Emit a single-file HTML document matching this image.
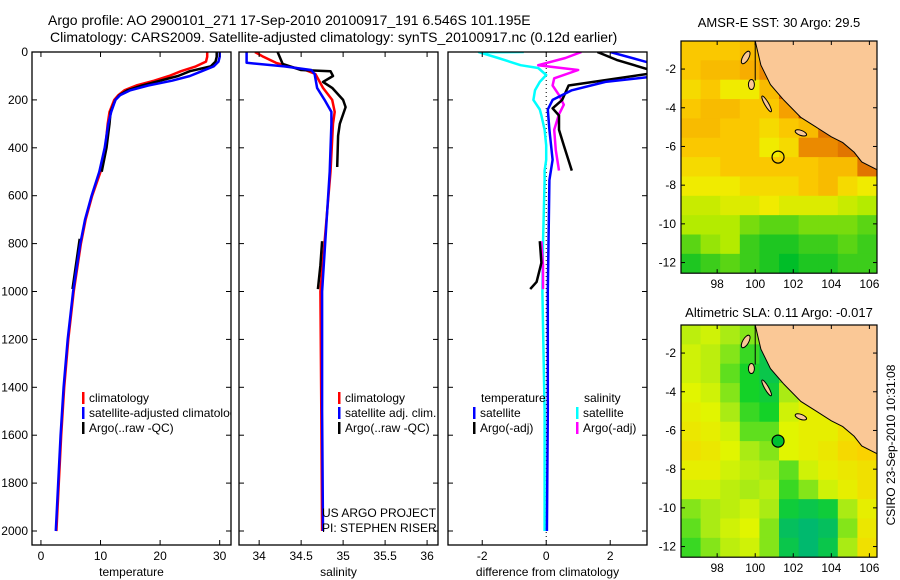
<!DOCTYPE html>
<html><head><meta charset="utf-8"><style>
body{margin:0;background:#fff}
svg{display:block;font-family:"Liberation Sans",sans-serif}
</style></head><body>
<svg id="c" width="900" height="580" viewBox="0 0 900 580">
<text x="48" y="25" font-size="14">Argo profile: AO 2900101_271 17-Sep-2010 20100917_191 6.546S 101.195E</text>
<text x="50" y="42" font-size="14">Climatology: CARS2009. Satellite-adjusted climatology: synTS_20100917.nc (0.12d earlier)</text>
<text x="779" y="27" font-size="13" text-anchor="middle">AMSR-E SST: 30 Argo: 29.5</text>
<text x="779" y="317" font-size="13" text-anchor="middle">Altimetric SLA: 0.11 Argo: -0.017</text>
<text transform="translate(895,445) rotate(-90)" font-size="12" text-anchor="middle">CSIRO 23-Sep-2010 10:31:08</text>
</svg>
<script>
// ---- profile data ----
const depths=[0,20,40,60,80,100,120,140,160,180,200,250,300,400,500,600,700,800,1000,1200,1400,1600,1800,2000];
const tempClim=[27.9,27.9,27.7,26,23.5,21.5,19,16,14,13,12.3,11.5,11.2,10.8,10,8.6,7.5,6.7,5.5,4.6,3.9,3.4,3,2.6];
const tempSat=[30,30,29.8,29,27,25,22,18,15,13.3,12.5,11.8,11.3,10.7,9.8,8.5,7.4,6.6,5.4,4.5,3.8,3.3,2.9,2.5];
const argoDepthA=[0,20,40,60,80,100,120,140,160,180,200,250,300,400,500];
const tempArgoA=[29.5,29.5,29.3,28.5,25,23,20,17,14.5,13.2,12.5,11.7,11.5,11,10.2];
const argoDepthB=[780,850,920,990];
const tempArgoB=[6.5,6.1,5.7,5.3];
const salDepth=[0,20,45,60,75,92,150,200,250,300,500,1000,1500,2000];
const salClim=[33.95,34.05,34.2,34.35,34.55,34.67,34.76,34.87,34.9,34.88,34.85,34.73,34.74,34.75];
const salSat=[33.85,33.85,33.85,34.3,34.62,34.66,34.69,34.78,34.86,34.86,34.84,34.75,34.75,34.76];
const salArgoDepth=[0,50,75,80,100,125,150,200,230,300,350,480];
const salArgo=[34.22,34.28,34.5,34.85,34.88,34.76,34.87,35.0,35.03,34.96,34.94,34.93];
const salArgoDepthB=[790,890,990];
const salArgoB=[34.75,34.73,34.7];
const dDepth=[0,1,25,55,67,96,125,160,200,240,265,325,390,410,450,495,535,800,1000,1500,2000];
const dSalSat=[-0.7,-2.1,-1.5,-0.8,-0.25,0,-0.2,-0.35,-0.4,-0.2,-0.15,-0.05,0,0,0,-0.05,-0.05,-0.1,-0.12,-0.05,-0.05];
const dSalArgoDepth=[0,25,55,75,110,140,180,220,260,325,410,495];
const dSalArgo=[1.1,0.6,-0.25,1.0,0.25,0.2,0.4,0.55,0.4,0.25,0.3,0.4];
const dSalArgoDepthB=[790,890,990];
const dSalArgoB=[-0.15,-0.1,-0.1];
const dTempSatDepth=[0,55,100,125,160,200,240,325,450,535,1000,1500,2000];
const dTempSat=[2.0,3.5,3.5,1.85,0.8,0.2,0.05,0.1,0.2,0.1,0.05,0.05,0.02];
const dTempArgoDepth=[0,33,85,140,200,235,265,325,390,495];
const dTempArgo=[1.6,2.2,3.5,0.7,0.5,0.2,0.4,0.4,0.55,0.8];
const dTempArgoDepthB=[790,880,960,990];
const dTempArgoB=[-0.2,-0.15,-0.3,-0.5];
const yTicks=[0,200,400,600,800,1000,1200,1400,1600,1800,2000];
const tTicks=[0,10,20,30], sTicks=[34,34.5,35,35.5,36], dTicks=[-2,0,2];
// ---- map data (rows north->south, lat -0.55.. ; cols lon 96.1..106.4), -1 = land ----
const sstGrid=[
[.55,.55,.55,.6,-1,-1,-1,-1,.9,.95],
[.55,.6,.6,.65,.75,-1,-1,-1,-1,-1],
[.5,.55,.45,.45,.6,.85,-1,-1,-1,-1],
[.55,.6,.6,.55,.55,.7,.9,-1,-1,-1],
[.6,.6,.55,.55,.5,.55,.6,.8,-1,-1],
[.55,.55,.55,.55,.45,.5,.75,.75,.8,-1],
[.5,.5,.55,.55,.55,.55,.55,.6,.6,.8],
[.45,.45,.45,.5,.5,.5,.55,.6,.5,.45],
[.35,.35,.4,.4,.45,.4,.4,.4,.35,.3],
[.3,.3,.3,.2,.15,.15,.2,.2,.2,.15],
[.15,.25,.3,.1,.05,.05,.1,.1,.15,.1],
[.05,.1,.15,.1,.05,0,.05,.05,.1,.1]];
const slaGrid=[
[.45,.5,.4,.35,-1,-1,-1,-1,-1,-1],
[.5,.45,.35,.25,.1,-1,-1,-1,-1,.5],
[.5,.45,.3,.2,.1,.3,-1,-1,-1,-1],
[.55,.5,.35,.2,.15,.4,.6,-1,-1,-1],
[.6,.55,.4,.25,.2,.5,.6,.6,-1,-1],
[.65,.6,.5,.3,.3,.55,.6,.6,.7,-1],
[.7,.65,.55,.4,.35,.55,.6,.65,.75,.8],
[.6,.6,.5,.45,.4,.3,.5,.6,.65,.7],
[.5,.5,.45,.4,.45,.25,.35,.5,.6,.7],
[.35,.4,.45,.5,.4,.15,.1,.15,.4,.6],
[.3,.4,.5,.55,.35,.05,0,.05,.35,.65],
[.25,.35,.45,.5,.35,.1,0,.1,.4,.7]];
const landLon=[100,106.4,106.4,105.6,105.2,104.6,104,103.2,102.4,101.5,100.8,100.3];
const landLat=[-0.55,-0.55,-7.2,-6.8,-6.3,-5.8,-5.5,-5,-4.5,-3.6,-2.8,-1.8];
const lonTicks=[98,100,102,104,106], latTicks=[-2,-4,-6,-8,-10,-12];
const floatLon=101.2, floatLat=-6.55;

const NS='http://www.w3.org/2000/svg', svg=document.getElementById('c');
function mk(t,a,p){const e=document.createElementNS(NS,t);for(const k in a)e.setAttribute(k,a[k]);(p||svg).appendChild(e);return e;}
const Y0=52, YS=0.2395, PB=545;
const yS=d=>Y0+d*YS;
const panels=[
 {x0:32,x1:231,v0:-1.5,v1:31.9,ticks:tTicks,lab:'temperature',name:'temperature-panel'},
 {x0:239,x1:438,v0:33.76,v1:36.13,ticks:sTicks,lab:'salinity',name:'salinity-panel'},
 {x0:448,x1:647,v0:-3.07,v1:3.15,ticks:dTicks,lab:'difference from climatology',name:'difference-panel'}];
panels.forEach((p,i)=>{
 p.xs=v=>p.x0+(v-p.v0)/(p.v1-p.v0)*(p.x1-p.x0);
 const g=mk('g',{});
 
 
 const cp=mk('clipPath',{id:'cp'+i},g);mk('rect',{x:p.x0,y:Y0,width:p.x1-p.x0,height:PB-Y0},cp);
 p.g=mk('g',{'clip-path':'url(#cp'+i+')'},g);
 mk('rect',{x:p.x0,y:Y0,width:p.x1-p.x0,height:PB-Y0,fill:'none',stroke:'#000','stroke-width':1.3},g);
 yTicks.forEach(t=>{const y=yS(t);
  mk('line',{x1:p.x0,x2:p.x0+5,y1:y,y2:y,stroke:'#000'},g);mk('line',{x1:p.x1,x2:p.x1-5,y1:y,y2:y,stroke:'#000'},g);
  if(i==0){const tx=mk('text',{x:p.x0-4,y:y+4,'font-size':12,'text-anchor':'end'},g);tx.textContent=t;
   }});
 p.ticks.forEach(t=>{const x=p.xs(t);
  mk('line',{x1:x,x2:x,y1:Y0,y2:Y0+5,stroke:'#000'},g);mk('line',{x1:x,x2:x,y1:PB,y2:PB-5,stroke:'#000'},g);
  const tx=mk('text',{x:x,y:PB+15,'font-size':12,'text-anchor':'middle'},g);tx.textContent=t;
  });
 const xl=mk('text',{x:(p.x0+p.x1)/2,y:576,'font-size':12,'text-anchor':'middle'},g);xl.textContent=p.lab;
 
});
mk('line',{x1:panels[2].xs(0),x2:panels[2].xs(0),y1:Y0,y2:PB,stroke:'#000','stroke-dasharray':'1,3'},panels[2].g);
function line(p,ds,vs,col,name){
 const pts=ds.map((d,k)=>p.xs(vs[k]).toFixed(1)+','+yS(d).toFixed(1)).join(' ');
 const e=mk('polyline',{points:pts,fill:'none',stroke:col,'stroke-width':2.5,'stroke-linejoin':'round'},p.g);
 
 }
const [P1,P2,P3]=panels;
line(P1,depths,tempClim,'#f00','temp-climatology-line');
line(P1,argoDepthA,tempArgoA,'#000','temp-argo-line');
line(P1,argoDepthB,tempArgoB,'#000','temp-argo-deep-line');
line(P1,depths,tempSat,'#00f','temp-satellite-line');
line(P2,salDepth,salClim,'#f00','sal-climatology-line');
line(P2,salArgoDepth,salArgo,'#000','sal-argo-line');
line(P2,salArgoDepthB,salArgoB,'#000','sal-argo-deep-line');
line(P2,salDepth,salSat,'#00f','sal-satellite-line');
line(P3,dDepth,dSalSat,'#0ff','diff-sal-satellite-line');
line(P3,dSalArgoDepth,dSalArgo,'#f0f','diff-sal-argo-line');
line(P3,dSalArgoDepthB,dSalArgoB,'#f0f','diff-sal-argo-deep-line');
line(P3,dTempArgoDepth,dTempArgo,'#000','diff-temp-argo-line');
line(P3,dTempArgoDepthB,dTempArgoB,'#000','diff-temp-argo-deep-line');
line(P3,dTempSatDepth,dTempSat,'#00f','diff-temp-satellite-line');
function leg(x,y,col,txt,name,clip){
 const g=mk('g',clip?{'clip-path':clip}:{});
 
 
 mk('rect',{x:x,y:y-10,width:2.5,height:12,fill:col},g);
 const t=mk('text',{x:x+7,y:y,'font-size':12},g);t.textContent=txt;}
leg(82,402,'#f00','climatology','legend-climatology','url(#cp0)');
leg(82,417,'#00f','satellite-adjusted climatology','legend-satellite','url(#cp0)');
leg(82,432,'#000','Argo(..raw -QC)','legend-argo','url(#cp0)');
leg(338,402,'#f00','climatology','legend-sal-climatology');
leg(338,417,'#00f','satellite adj. clim.','legend-sal-satellite');
leg(338,432,'#000','Argo(..raw -QC)','legend-sal-argo');
{const t=mk('text',{x:481,y:402,'font-size':12});t.textContent='temperature';
 const s=mk('text',{x:584,y:402,'font-size':12});s.textContent='salinity';}
leg(473,417,'#00f','satellite','legend-diff-temp-satellite');
leg(473,432,'#000','Argo(-adj)','legend-diff-temp-argo');
leg(576,417,'#0ff','satellite','legend-diff-sal-satellite');
leg(576,432,'#f0f','Argo(-adj)','legend-diff-sal-argo');
{const a=mk('text',{x:322,y:517,'font-size':12});a.textContent='US ARGO PROJECT';
 const b=mk('text',{x:322,y:532,'font-size':12});b.textContent='PI: STEPHEN RISER';}
// ---- maps ----
const sstStops=[[0,[0,190,40]],[.3,[180,235,0]],[.45,[240,235,0]],[.55,[250,200,0]],[.7,[245,160,0]],[.85,[215,95,0]],[1,[160,0,0]]];
const slaStops=[[0,[0,185,110]],[.2,[20,210,40]],[.4,[170,235,20]],[.55,[225,245,0]],[.8,[250,210,0]],[1,[245,160,20]]];
function cmap(st,v){for(let k=1;k<st.length;k++)if(v<=st[k][0]){const a=st[k-1],b=st[k],f=(v-a[0])/(b[0]-a[0]);return 'rgb('+a[1].map((c,j)=>Math.round(c+(b[1][j]-c)*f)).join(',')+')';}return 'rgb('+st[st.length-1][1].join(',')+')';}
function map(y0,grid,stops,name,filled){
 const X0=681,X1=877,L0=96.1,L1=106.4,T=-0.55,S=19.35;
 const xs=l=>X0+(l-L0)/(L1-L0)*(X1-X0), ys=la=>y0+(T-la)*S;
 const g=mk('g',{});
 
 
 const id='mc'+y0;const cp=mk('clipPath',{id:id},g);mk('rect',{x:X0,y:y0,width:X1-X0,height:ys(-12.55)-y0},cp);
 const gg=mk('g',{'clip-path':'url(#'+id+')'},g);
 mk('rect',{x:X0,y:y0,width:X1-X0,height:ys(-12.55)-y0,fill:'#fff'},gg);
 const cw=(L1-L0)/grid[0].length;
 grid.forEach((row,r)=>row.forEach((v,c)=>{const x=xs(L0+c*cw),y=ys(T-r);
  const e=mk('rect',{x:x,y:y,width:xs(L0+(c+1)*cw)-x+0.5,height:S+0.5,fill:v<0?'#fac896':cmap(stops,v)},gg);
  
  }));
 const lp=mk('polygon',{points:landLon.map((l,k)=>xs(l)+','+ys(landLat[k])).join(' '),fill:'#fac896',stroke:'#000','stroke-width':1},gg);
 
 
 [[99.5,-1.4,7,3,-60],[102.4,-5.3,6,2.5,20],[99.8,-2.8,3,5,0],[100.6,-3.8,2,9,-30]].forEach(i=>mk('ellipse',{cx:xs(i[0]),cy:ys(i[1]),rx:i[2],ry:i[3],transform:'rotate('+i[4]+' '+xs(i[0])+' '+ys(i[1])+')',fill:'#fac896',stroke:'#000'},gg));
 mk('line',{x1:xs(100),x2:xs(100),y1:y0,y2:ys(-2.6),stroke:'#000'},gg);
 const f=mk('circle',{cx:xs(floatLon),cy:ys(floatLat),r:6,fill:filled?'#00c030':'none',stroke:'#000','stroke-width':1.2},gg);
 
 
 const yb=ys(-12.55);
 mk('rect',{x:X0,y:y0,width:X1-X0,height:yb-y0,fill:'none',stroke:'#000','stroke-width':1.2},g);
 lonTicks.forEach(l=>{const x=xs(l);mk('line',{x1:x,x2:x,y1:y0,y2:y0+4,stroke:'#000'},g);mk('line',{x1:x,x2:x,y1:yb,y2:yb-4,stroke:'#000'},g);
  const t=mk('text',{x:x,y:yb+15,'font-size':12,'text-anchor':'middle'},g);t.textContent=l;});
 latTicks.forEach(l=>{const y=ys(l);mk('line',{x1:X0,x2:X0+4,y1:y,y2:y,stroke:'#000'},g);mk('line',{x1:X1,x2:X1-4,y1:y,y2:y,stroke:'#000'},g);
  const t=mk('text',{x:X0-5,y:y+4,'font-size':12,'text-anchor':'end'},g);t.textContent=l;});
}
map(41,sstGrid,sstStops,'sst-map',false);
map(325,slaGrid,slaStops,'sla-map',true);
</script>
</body></html>
